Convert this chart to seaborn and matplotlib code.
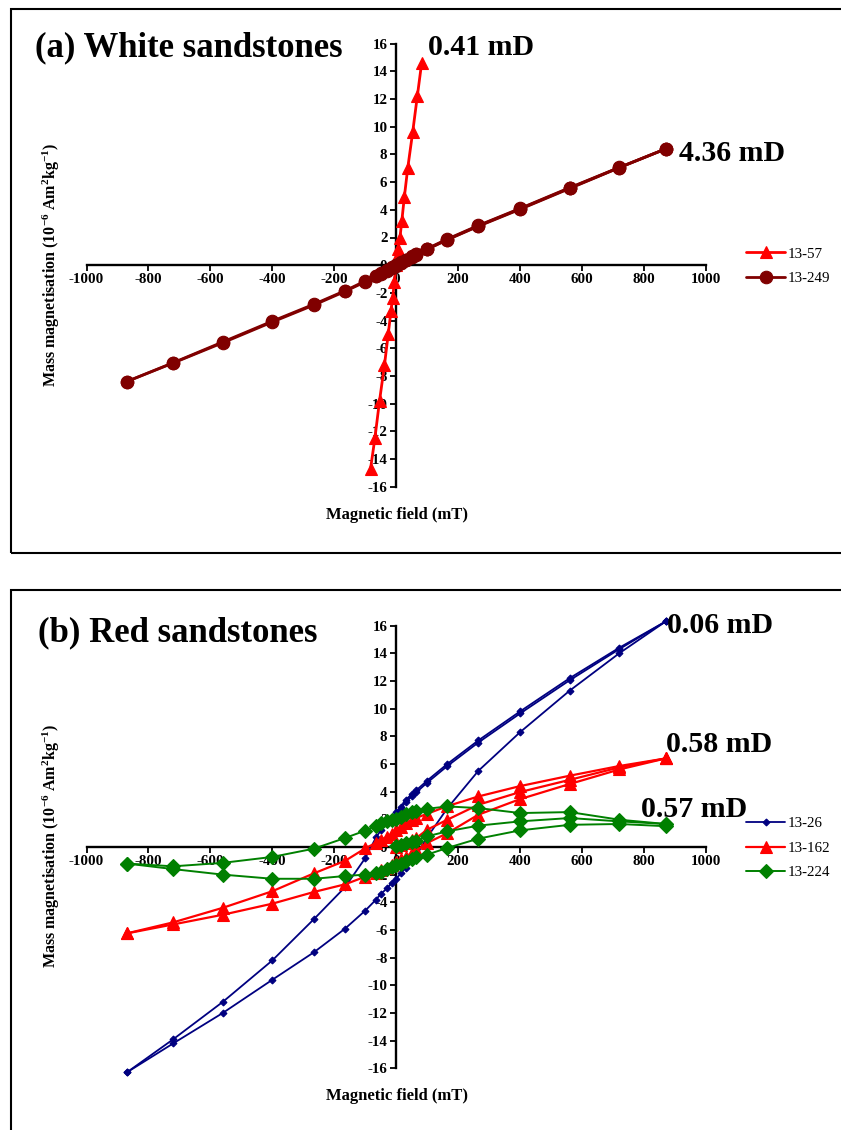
import matplotlib
matplotlib.use("Agg")
import matplotlib.pyplot as plt
import seaborn as sns
from matplotlib.patches import Rectangle

sns.set_theme(style="white")
plt.rcParams["font.family"] = ["Liberation Serif", "DejaVu Serif"]
plt.rcParams["text.color"] = "black"
plt.rcParams["axes.labelcolor"] = "black"
plt.rcParams["xtick.color"] = "black"
plt.rcParams["ytick.color"] = "black"
plt.rcParams["mathtext.fontset"] = "custom"
plt.rcParams["mathtext.rm"] = "Liberation Serif:bold"
plt.rcParams["mathtext.bf"] = "Liberation Serif:bold"
plt.rcParams["mathtext.it"] = "Liberation Serif:bold"
plt.rcParams["mathtext.default"] = "rm"

# ---------------- data ----------------
XTICKS = [-1000, -800, -600, -400, -200, 0, 200, 400, 600, 800, 1000]
YTICKS = [-16, -14, -12, -10, -8, -6, -4, -2, 0, 2, 4, 6, 8, 10, 12, 14, 16]

# field steps (mT)
H_init = [0, 15, 30, 50, 65, 100, 165, 265, 400, 560, 720, 870]
H_desc = [870, 720, 560, 400, 265, 165, 100, 65, 50, 30, 15, 0,
          -15, -30, -50, -65, -100, -165, -265, -400, -560, -720, -870]
H_asc = [-870, -720, -560, -400, -265, -165, -100, -65, -50, -30, -15, 0,
         15, 30, 50, 65, 100, 165, 265, 400, 560, 720, 870]

# (a) white sandstones
H_1357 = [-83, -69, -54, -38, -26, -17, -12, -6, 0, 3, 6, 12, 18, 26, 37, 53, 68, 82]
M_1357 = [-14.7, -12.5, -9.8, -7.2, -5.0, -3.3, -2.4, -1.2, 0.0, 0.6, 1.2, 2.0,
          3.2, 4.9, 7.0, 9.6, 12.2, 14.6]

M_13249_init = [0.0, 0.19, 0.37, 0.6, 0.78, 1.17, 1.85, 2.84, 4.07, 5.57, 7.05, 8.4]
M_13249_desc = [8.4, 7.06, 5.6, 4.1, 2.87, 1.89, 1.2, 0.81, 0.63, 0.4, 0.22, 0.03,
                -0.16, -0.34, -0.57, -0.75, -1.14, -1.84, -2.81, -4.04, -5.54, -7.04, -8.4]
M_13249_asc = [-8.4, -7.06, -5.6, -4.1, -2.87, -1.89, -1.2, -0.81, -0.63, -0.4, -0.22, -0.03,
               0.16, 0.34, 0.57, 0.75, 1.14, 1.84, 2.81, 4.04, 5.54, 7.04, 8.4]

# (b) red sandstones
M_1326_init = [2.3, 2.75, 3.25, 3.65, 3.95, 4.65, 5.85, 7.55, 9.65, 12.05, 14.3, 16.3]
M_1326_desc = [16.3, 14.4, 12.2, 9.8, 7.7, 6.0, 4.8, 4.1, 3.8, 3.4, 2.9, 2.5,
               2.1, 1.7, 1.2, 0.7, -0.8, -2.9, -5.2, -8.2, -11.2, -13.9, -16.3]
M_1326_asc = [-16.3, -14.2, -12.0, -9.6, -7.6, -5.9, -4.6, -3.8, -3.4, -3.0, -2.6, -2.3,
              -1.9, -1.5, -1.0, -0.6, 0.7, 2.8, 5.5, 8.3, 11.3, 14.0, 16.3]

M_13162_init = [0.0, 0.15, 0.3, 0.5, 0.65, 1.25, 1.97, 3.05, 3.97, 4.85, 5.75, 6.4]
M_13162_desc = [6.4, 5.85, 5.15, 4.4, 3.65, 2.95, 2.4, 2.1, 1.95, 1.7, 1.45, 1.2,
                0.95, 0.75, 0.5, 0.3, -0.1, -1.0, -1.9, -3.2, -4.4, -5.45, -6.25]
M_13162_asc = [-6.25, -5.6, -4.9, -4.1, -3.25, -2.7, -2.15, -1.85, -1.7, -1.5, -1.3, -1.1,
               -0.9, -0.7, -0.45, -0.25, 0.29, 1.0, 2.33, 3.46, 4.55, 5.6, 6.4]

M_13224_init = [0.05, 0.15, 0.25, 0.35, 0.45, 0.77, 1.13, 1.54, 1.85, 2.09, 1.85, 1.66]
M_13224_desc = [1.66, 1.97, 2.52, 2.45, 2.81, 2.93, 2.76, 2.6, 2.5, 2.35, 2.2, 2.05,
                1.95, 1.85, 1.7, 1.55, 1.18, 0.65, -0.12, -0.72, -1.15, -1.4, -1.2]
M_13224_asc = [-1.2, -1.6, -2.0, -2.3, -2.3, -2.1, -2.0, -1.9, -1.8, -1.6, -1.45, -1.3,
               -1.2, -1.05, -0.85, -0.75, -0.55, -0.07, 0.6, 1.2, 1.6, 1.66, 1.5]

C_RED = "#FF0000"
C_BROWN = "#800000"
C_NAVY = "#000080"
C_GREEN = "#008000"

W, Hpx = 841, 1130
fig = plt.figure(figsize=(W / 100, Hpx / 100), dpi=100)
fig.patch.set_facecolor("white")


def fx(px):
    return px / W


def fy(py):
    return 1 - py / Hpx


def draw(ax, x, y, color, marker, ms, lw, label=None):
    sns.lineplot(x=x, y=y, ax=ax, sort=False, estimator=None, color=color,
                 marker=marker, markersize=ms, linewidth=lw, markeredgecolor=color,
                 markeredgewidth=0.8, label=label, zorder=3, clip_on=False)


def setup(ax):
    ax.set_xlim(-1000, 1000)
    ax.set_ylim(-16, 16)
    ax.patch.set_alpha(0)
    ax.spines["left"].set_position(("data", 0))
    ax.spines["bottom"].set_position(("data", 0))
    ax.spines["top"].set_visible(False)
    ax.spines["right"].set_visible(False)
    for s in ["left", "bottom"]:
        ax.spines[s].set_linewidth(1.7)
        ax.spines[s].set_color("black")
        ax.spines[s].set_zorder(2.5)
    ax.set_xticks(XTICKS)
    ax.set_yticks(YTICKS)
    ax.set_xticklabels([str(v) for v in XTICKS], fontweight="bold", fontsize=10.8)
    ax.set_yticklabels([str(v) for v in YTICKS], fontweight="bold", fontsize=10.8)
    ax.tick_params(axis="both", direction="out", length=4.5, width=1.3,
                   color="black", labelcolor="black", bottom=True, left=True)
    ax.tick_params(axis="x", pad=1.2)
    ax.tick_params(axis="y", pad=1.8)
    ax.set_xlabel("")
    ax.set_ylabel("")


YLABEL = "Mass magnetisation (10$^{-6}$ Am$^{2}$kg$^{-1}$)"
LEG_KW = dict(loc="center left", bbox_transform=fig.transFigure, frameon=False,
              fontsize=10.8, handlelength=2.6, handletextpad=0.2, labelspacing=0.72,
              borderpad=0, borderaxespad=0)

# ---------------- panel (a) ----------------
axa = fig.add_axes([fx(86.5), fy(486.8), fx(706) - fx(86.5), fy(43.6) - fy(486.8)])
draw(axa, H_1357, M_1357, C_RED, "^", 8.8, 2.0, label="13-57")
draw(axa, H_init, M_13249_init, C_BROWN, "o", 9.0, 2.0, label="13-249")
draw(axa, H_desc, M_13249_desc, C_BROWN, "o", 9.0, 2.0)
draw(axa, H_asc, M_13249_asc, C_BROWN, "o", 9.0, 2.0)
setup(axa)
h, l = axa.get_legend_handles_labels()
axa.legend(h, l, bbox_to_anchor=(fx(746), fy(266)), **LEG_KW)
axa.text(101, 15.75, "0.41 mD", fontsize=21.5, fontweight="bold", va="center", ha="left")
axa.text(913, 8.05, "4.36 mD", fontsize=21.5, fontweight="bold", va="center", ha="left",
         clip_on=False)

fig.text(fx(35), fy(48), "(a) White sandstones", fontsize=25, fontweight="bold",
         va="center", ha="left")
fig.text(fx(397), fy(515), "Magnetic field (mT)", fontsize=12, fontweight="bold",
         ha="center", va="center")
fig.text(fx(51), fy(265), YLABEL, fontsize=11.5, fontweight="bold", rotation=90,
         ha="center", va="center")

# ---------------- panel (b) ----------------
axb = fig.add_axes([fx(86.5), fy(1068.3), fx(706) - fx(86.5), fy(625.6) - fy(1068.3)])
draw(axb, H_init, M_1326_init, C_NAVY, "D", 3.5, 1.3, label="13-26")
draw(axb, H_desc, M_1326_desc, C_NAVY, "D", 3.5, 1.3)
draw(axb, H_asc, M_1326_asc, C_NAVY, "D", 3.5, 1.3)
draw(axb, H_init, M_13162_init, C_RED, "^", 8.3, 1.6, label="13-162")
draw(axb, H_desc, M_13162_desc, C_RED, "^", 8.3, 1.6)
draw(axb, H_asc, M_13162_asc, C_RED, "^", 8.3, 1.6)
draw(axb, H_init, M_13224_init, C_GREEN, "D", 7.0, 1.4, label="13-224")
draw(axb, H_desc, M_13224_desc, C_GREEN, "D", 7.0, 1.4)
draw(axb, H_asc, M_13224_asc, C_GREEN, "D", 7.0, 1.4)
setup(axb)
h, l = axb.get_legend_handles_labels()
axb.legend(h, l, bbox_to_anchor=(fx(746), fy(848)), **LEG_KW)
axb.text(874, 16.0, "0.06 mD", fontsize=21.5, fontweight="bold", va="center", ha="left",
         clip_on=False)
axb.text(870, 7.4, "0.58 mD", fontsize=21.5, fontweight="bold", va="center", ha="left",
         clip_on=False)
axb.text(791, 2.7, "0.57 mD", fontsize=21.5, fontweight="bold", va="center", ha="left",
         clip_on=False)

fig.text(fx(38), fy(633), "(b) Red sandstones", fontsize=25, fontweight="bold",
         va="center", ha="left")
fig.text(fx(397), fy(1096), "Magnetic field (mT)", fontsize=12, fontweight="bold",
         ha="center", va="center")
fig.text(fx(51), fy(846), YLABEL, fontsize=11.5, fontweight="bold", rotation=90,
         ha="center", va="center")

# panel frames
fig.add_artist(Rectangle((fx(10.5), fy(553)), 1.05 - fx(10.5), fy(9) - fy(553),
                         transform=fig.transFigure, fill=False, lw=1.5, ec="black",
                         clip_on=False))
fig.add_artist(Rectangle((fx(11), -0.05), 1.05 - fx(11), fy(590) + 0.05,
                         transform=fig.transFigure, fill=False, lw=1.5, ec="black",
                         clip_on=False))

fig.savefig("out.png", dpi=100, facecolor="white")
